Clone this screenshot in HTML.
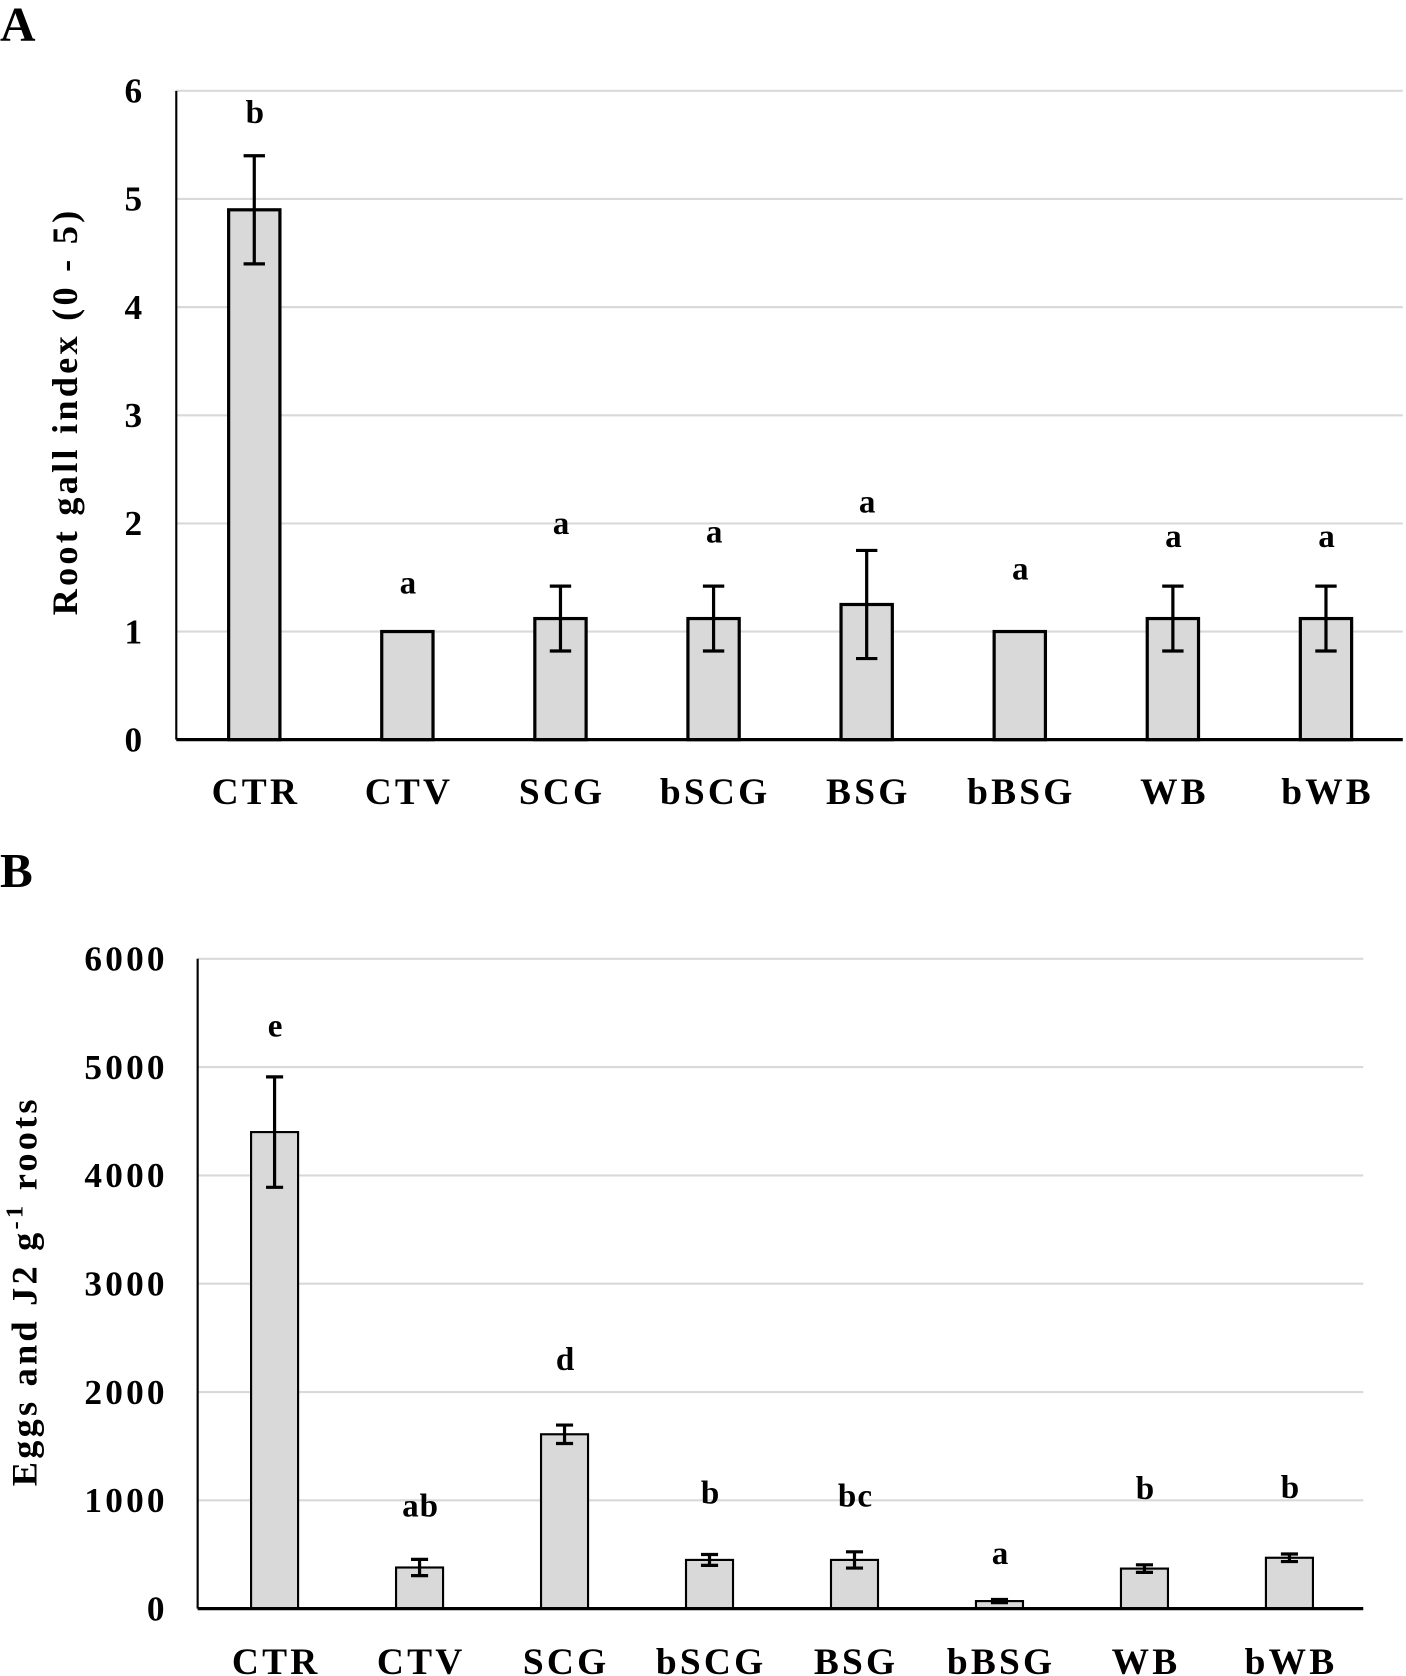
<!DOCTYPE html>
<html><head><meta charset="utf-8"><style>
html,body{margin:0;padding:0;background:#fff;}
svg{display:block;}
text{font-family:"Liberation Serif",serif;font-weight:bold;fill:#000;}
</style></head><body>
<svg id="fig" width="1406" height="1676" viewBox="0 0 1316 1568" preserveAspectRatio="none" xmlns="http://www.w3.org/2000/svg">
<text x="0" y="38" font-size="46">A</text>
<text x="0" y="830" font-size="46">B</text>
<g id="chartA"></g>
<g id="chartB"></g>
</svg>
<script>
const categories = ["CTR","CTV","SCG","bSCG","BSG","bBSG","WB","bWB"];
const gallValues = [4.9,1.0,1.12,1.12,1.25,1.0,1.12,1.12];
const gallErrors = [0.5,0,0.3,0.3,0.5,0,0.3,0.3];
const gallLetters = ["b","a","a","a","a","a","a","a"];
const gallLetterPos = [5.8,1.45,2.0,1.92,2.2,1.58,1.88,1.88];
const gallTicks = [0,1,2,3,4,5,6];
const eggValues = [4400,380,1610,450,450,70,370,470];
const eggErrors = [510,75,85,50,75,15,35,35];
const eggLetters = ["e","ab","d","b","bc","a","b","b"];
const eggLetterPos = [5380,950,2300,1070,1040,510,1110,1120];
const eggTicks = [0,1000,2000,3000,4000,5000,6000];

const NS="http://www.w3.org/2000/svg";
function mk(parent,tag,attrs,txt){const e=document.createElementNS(NS,tag);for(const k in attrs)e.setAttribute(k,attrs[k]);if(txt!==undefined)e.textContent=txt;parent.appendChild(e);return e;}

function drawChart(g,cfg){
  const y=v=>cfg.y0-(v-cfg.min)/(cfg.max-cfg.min)*(cfg.y0-cfg.yTop);
  const x=i=>cfg.x0c+i*cfg.step;
  cfg.ticks.forEach(t=>{
    if(t>cfg.min){const l=mk(g,"line",{x1:cfg.axX,x2:cfg.right,y1:y(t),y2:y(t),stroke:"#d9d9d9","stroke-width":2});
    
    }
    const tx=mk(g,"text",{x:cfg.axX-cfg.tickGap,y:y(t)+11,"font-size":cfg.tickFs,"text-anchor":"end","letter-spacing":cfg.tickLs});
    tx.textContent=t;
    
    
  });
  const ax=mk(g,"line",{x1:cfg.axX,x2:cfg.axX,y1:cfg.yTop,y2:cfg.y0,stroke:"#000","stroke-width":2});
  
  
  cfg.values.forEach((v,i)=>{
    const r=mk(g,"rect",{x:x(i)-cfg.bw/2,y:y(v),width:cfg.bw,height:cfg.y0-y(v),fill:"#d9d9d9",stroke:"#000","stroke-width":cfg.sw});
    
    
    const e=cfg.errors[i];
    if(e>0){
      const eg=mk(g,"g",{stroke:"#000","stroke-width":3});
      
      
      mk(eg,"line",{x1:x(i),x2:x(i),y1:y(v-e),y2:y(v+e)});
      mk(eg,"line",{x1:x(i)-cfg.cap,x2:x(i)+cfg.cap,y1:y(v-e),y2:y(v-e)});
      mk(eg,"line",{x1:x(i)-cfg.cap,x2:x(i)+cfg.cap,y1:y(v+e),y2:y(v+e)});
    }
    const lt=mk(g,"text",{x:x(i)+1,y:y(cfg.letterPos[i])+10,"font-size":31,"text-anchor":"middle","letter-spacing":1},cfg.letters[i]);
    
    
    const cl=mk(g,"text",{x:x(i)+1.5,y:cfg.catY,"font-size":35,"text-anchor":"middle","letter-spacing":3},categories[i]);
    
    
  });
  const bx=mk(g,"line",{x1:cfg.axX,x2:cfg.right,y1:cfg.y0,y2:cfg.y0,stroke:"#000","stroke-width":3});
  
  
}
const gA=document.getElementById('chartA');
drawChart(gA,{min:0,max:6,y0:692,yTop:85,axX:165,right:1313,x0c:238,step:143.3,bw:48,sw:3,cap:10,ticks:gallTicks,tickFs:33,tickLs:0,tickGap:32,values:gallValues,errors:gallErrors,letters:gallLetters,letterPos:gallLetterPos,catY:752});
const ta=mk(gA,"text",{x:0,y:0,"font-size":34,"text-anchor":"middle","letter-spacing":3,transform:"translate(72,385) rotate(-90)"},"Root gall index (0 - 5)");


const gB=document.getElementById('chartB');
drawChart(gB,{min:0,max:6000,y0:1505,yTop:897,axX:185,right:1276,x0c:257,step:135.7,bw:44,sw:2,cap:8,ticks:eggTicks,tickFs:33,tickLs:3,tickGap:28,values:eggValues,errors:eggErrors,letters:eggLetters,letterPos:eggLetterPos,catY:1566});
const tb=mk(gB,"text",{x:0,y:0,"font-size":34,"text-anchor":"middle","letter-spacing":3,transform:"translate(34,1208) rotate(-90)"});


mk(tb,"tspan",{},"Eggs and J2 g");
mk(tb,"tspan",{dy:-13,"font-size":23},"-1");
mk(tb,"tspan",{dy:13}," roots");
</script>
</body></html>
